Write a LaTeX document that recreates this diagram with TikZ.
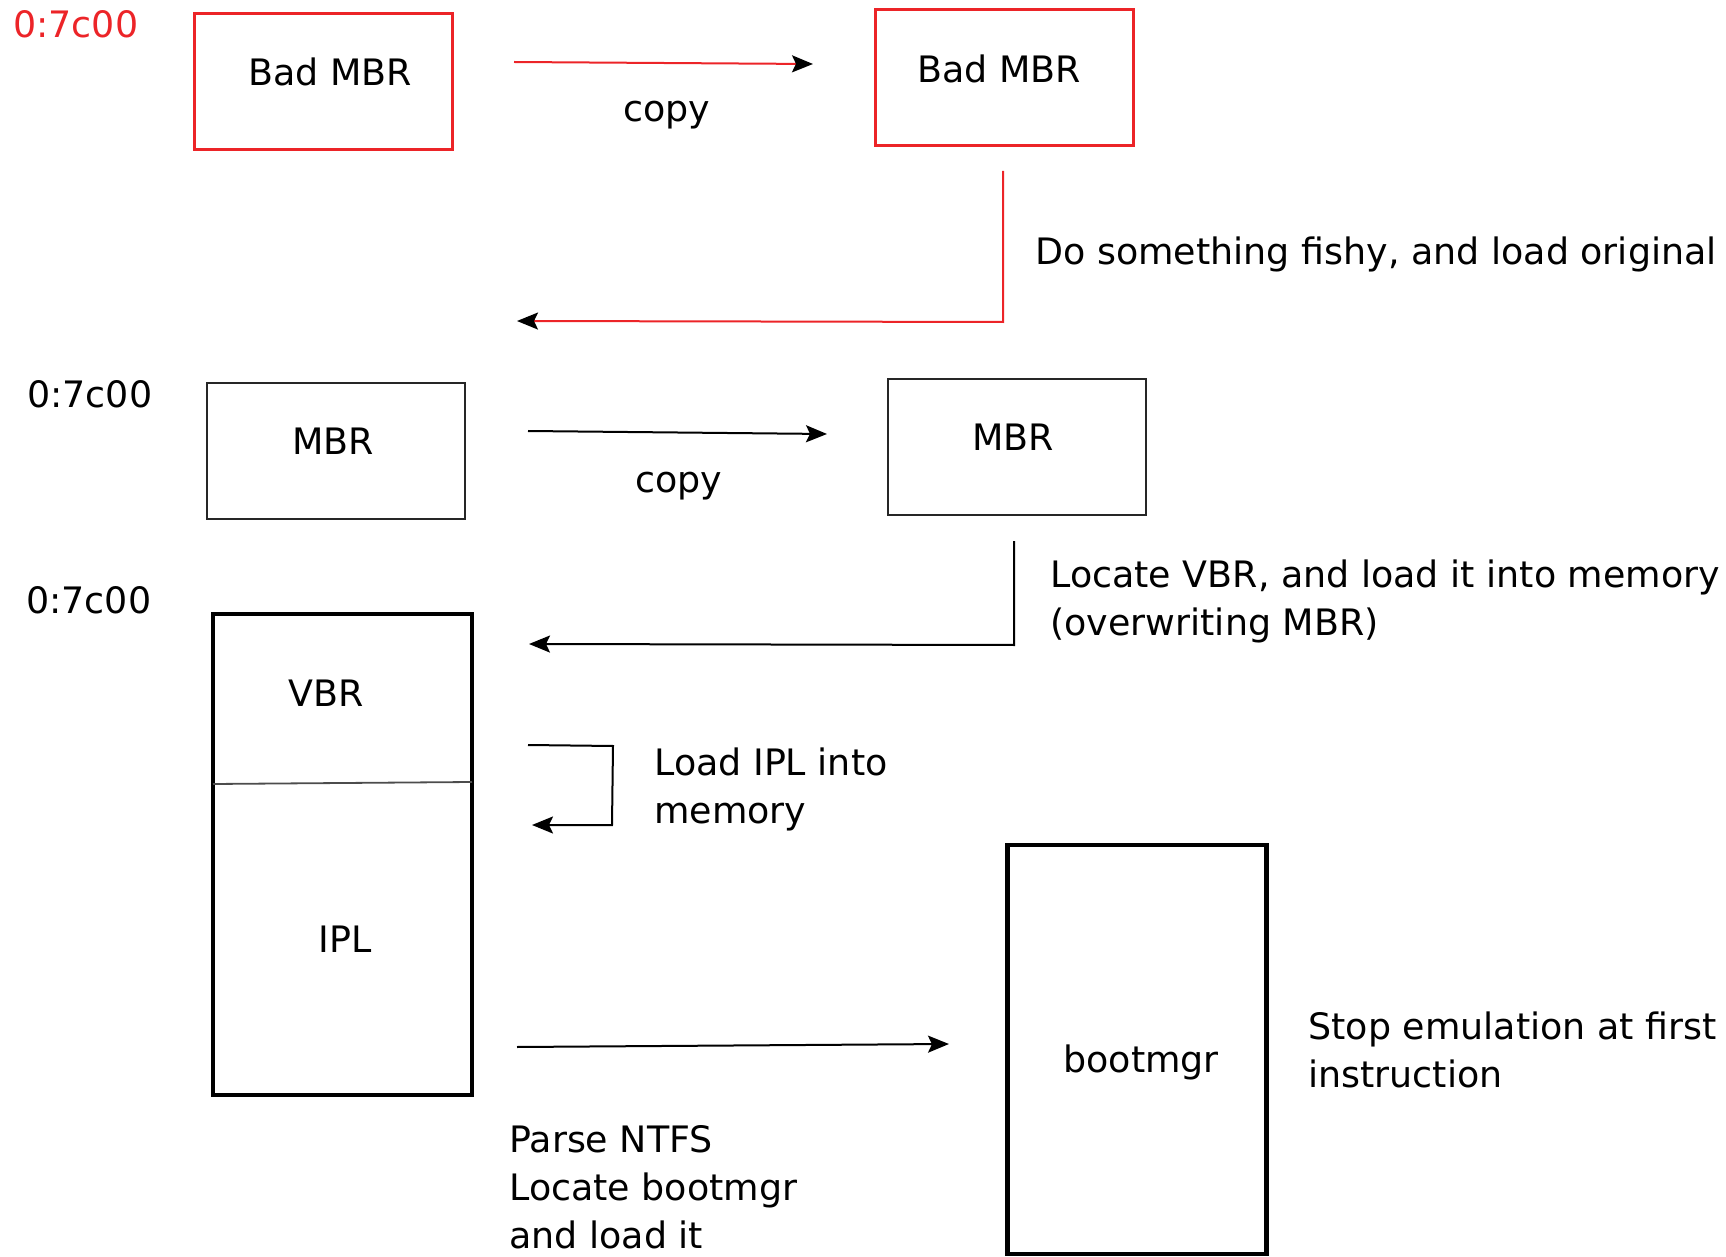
\documentclass[tikz,border=0pt]{standalone}
\usepackage{fontspec}
\setmainfont{DejaVu Sans}
\usetikzlibrary{arrows.meta}
\definecolor{bred}{RGB}{236,36,40}
\begin{document}
\begin{tikzpicture}[x=0.5pt,y=-0.5pt,
  lbl/.style={anchor=base west, inner sep=0pt, font=\fontsize{18.2}{24}\selectfont},
  redlbl/.style={lbl, text=bred},
  redbox/.style={draw=bred, line width=1.5pt, minimum width=129pt, minimum height=68pt, inner sep=0pt},
  thinbox/.style={draw=black!85, line width=1.3pt, minimum width=129pt, minimum height=68pt, inner sep=0pt},
  thickbox/.style={draw=black, line width=2.2pt, inner sep=0pt, minimum width=129.5pt},
  conn/.style={line width=1pt, -{Stealth[length=10.5pt,width=8.5pt,inset=2pt,black]}},
  redconn/.style={conn, draw=bred},
]
\useasboundingbox (0,0) rectangle (1726,1257);

% boxes
\node[redbox] (bad1) at (323,82) {};
\node[redbox] (bad2) at (1004,77.5) {};
\node[thinbox] (mbr1) at (336,451) {};
\node[thinbox] (mbr2) at (1017,447) {};
\node[thickbox, minimum height=240.5pt] (vbr) at (342.5,854.5) {};
\node[thickbox, minimum height=204.5pt] (boot) at (1137,1049.5) {};
\coordinate (divL) at (213,784);
\coordinate (divR) at (472,782);
\draw[line width=0.9pt, black!70] (divL) -- (divR);

% labels
\node[redlbl] (addr1) at (13,38) {0:7c00};
\node[lbl] (t-bad1) at (248,86) {Bad MBR};
\node[lbl] (t-copy1) at (623,122) {copy};
\node[lbl] (t-bad2) at (917,83) {Bad MBR};
\node[lbl] (t-fishy) at (1035,265) {Do something fishy, and load original};
\node[lbl] (addr2) at (27,408) {0:7c00};
\node[lbl] (t-mbr1) at (292,455) {MBR};
\node[lbl] (t-copy2) at (635,493) {copy};
\node[lbl] (t-mbr2) at (972,451) {MBR};
\node[lbl] (t-loc1) at (1050,587) {Locate VBR, and load it into memory};
\node[lbl] (t-loc2) at (1050,635) {(overwriting MBR)};
\node[lbl] (addr3) at (26,613) {0:7c00};
\node[lbl] (t-vbr) at (288,706) {VBR};
\node[lbl] (t-ipl) at (318,952) {IPL};
\node[lbl] (t-ld1) at (654,775) {Load IPL into};
\node[lbl] (t-ld2) at (654,823) {memory};
\node[lbl] (t-p1) at (509,1152) {Parse NTFS};
\node[lbl] (t-p2) at (509,1200) {Locate bootmgr};
\node[lbl] (t-p3) at (509,1248) {and load it};
\node[lbl] (t-boot) at (1063,1072) {bootmgr};
\node[lbl] (t-stop1) at (1308,1039) {Stop emulation at first};
\node[lbl] (t-stop2) at (1308,1087) {instruction};

% connector end points
\coordinate (c1s) at (514,62);   \coordinate (c1e) at (813,64);
\coordinate (c2s) at (1003,171); \coordinate (c2m) at (1003,322); \coordinate (c2e) at (517,321);
\coordinate (c3s) at (528,431);  \coordinate (c3e) at (827,434);
\coordinate (c4s) at (1014,541); \coordinate (c4m) at (1014,645); \coordinate (c4e) at (529,644);
\coordinate (c5s) at (528,745);  \coordinate (c5a) at (613,746); \coordinate (c5b) at (612,825); \coordinate (c5e) at (532,825);
\coordinate (c6s) at (517,1047); \coordinate (c6e) at (949,1044);

\draw[redconn] (c1s) -- (c1e);
\draw[redconn] (c2s) -- (c2m) -- (c2e);
\draw[conn] (c3s) -- (c3e);
\draw[conn] (c4s) -- (c4m) -- (c4e);
\draw[conn] (c5s) -- (c5a) -- (c5b) -- (c5e);
\draw[conn] (c6s) -- (c6e);
\end{tikzpicture}
\end{document}
